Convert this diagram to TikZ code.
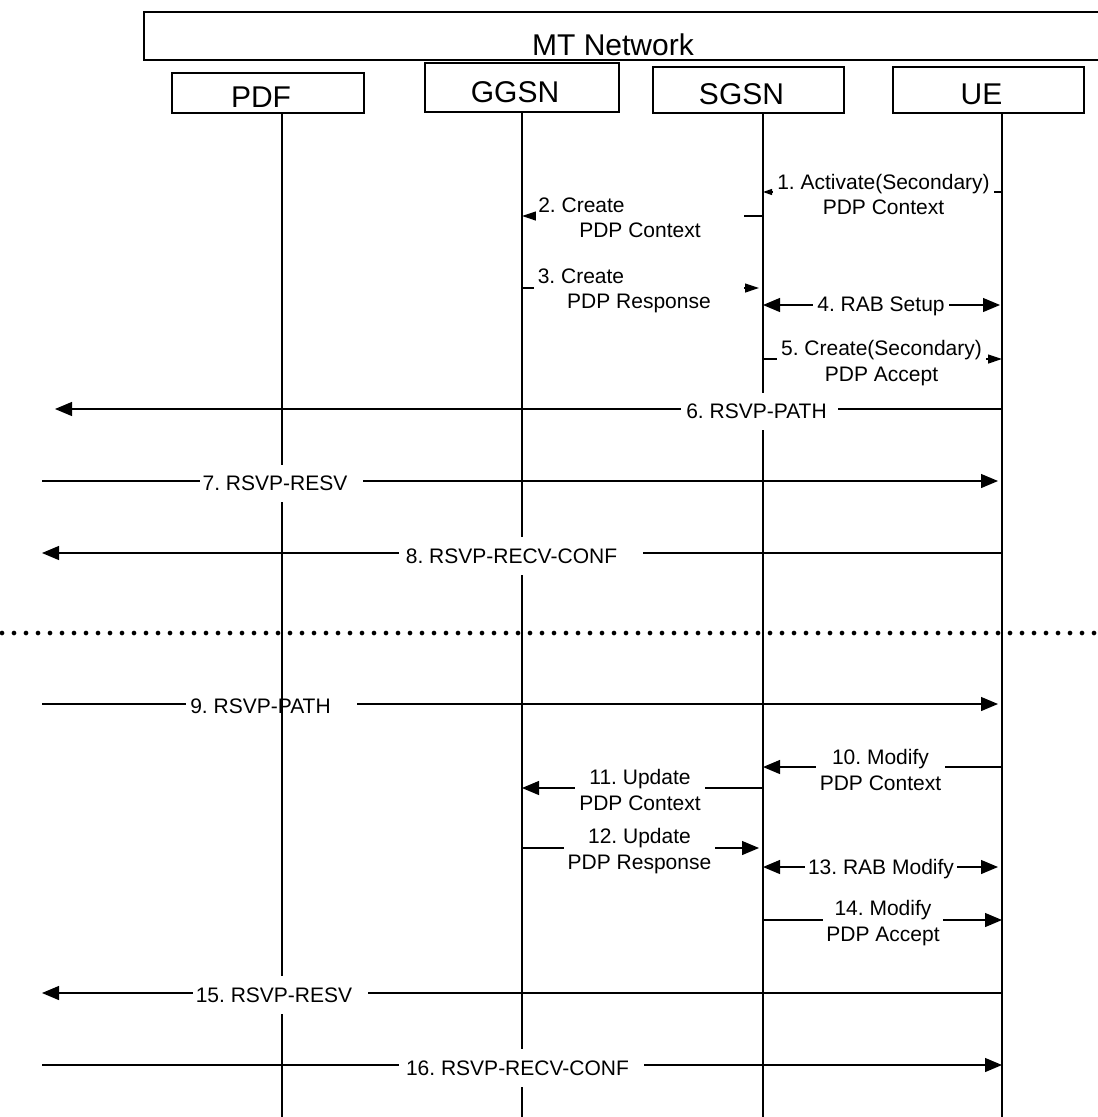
\documentclass[tikz,border=0pt]{standalone}
\usepackage{fontspec}
\setmainfont{Liberation Sans}
\usetikzlibrary{arrows.meta}
\frenchspacing

\begin{document}
\begin{tikzpicture}[x=1pt,y=-1pt,
    box/.style={draw,line width=1.6pt,inner sep=0pt,font=\fontsize{30}{36}\selectfont,text height=29pt,text depth=0pt},
    life/.style={line width=1.8pt},
    msg/.style={line width=1.2pt},
    lbl/.style={fill=white,inner sep=0pt,align=center,font=\fontsize{21}{25.5}\selectfont},
    bigtip/.style={-{Triangle[length=17pt,width=14pt]}},
    twotip/.style={{Triangle[length=17pt,width=14pt]}-{Triangle[length=17pt,width=14pt]}},
    smalltip/.style={-{Triangle[length=14pt,width=9pt]}},
    tinytip/.style={-{Triangle[length=9pt,width=6pt]}}]
    \useasboundingbox (0,0) rectangle (1098,1117);

    \draw[line width=1.8pt] (144,12) rectangle (1110,60);
    \node[font=\fontsize{30}{36}\selectfont] (mt) at (613,45) {MT Network};

    \node[box,minimum width=192pt,minimum height=40pt] (pdf) at (268,93) {PDF\hspace*{14pt}};
    \node[box,minimum width=194pt,minimum height=49pt] (ggsn) at (522,87.5) {GGSN\hspace*{14pt}};
    \node[box,minimum width=191pt,minimum height=46pt] (sgsn) at (748.5,90) {SGSN\hspace*{14pt}};
    \node[box,minimum width=191pt,minimum height=46pt] (ue) at (988.5,90) {UE\hspace*{14pt}};

    \coordinate (pdfL) at (282,113);
    \coordinate (ggsnL) at (522,112);
    \coordinate (sgsnL) at (763,113);
    \coordinate (ueL) at (1002,113);
    \coordinate (bot) at (0,1117);
    \coordinate (farL) at (42,0);
    \foreach \n in {pdfL,ggsnL,sgsnL,ueL}
        \draw[life] (\n) -- (\n |- bot);

    \foreach \i/\y in {1/192,2/216,3/288,4/305,5/359,6/409,7/481,8/553,9/704,10/767,11/788,12/848,13/867,14/920,15/993,16/1065}
        \coordinate (m\i) at (0,\y);

    \draw[msg,tinytip] (ueL |- m1) -- (sgsnL |- m1);
    \node[lbl,minimum width=221pt] (l1) at (883.5,194.5) {1. Activate(Secondary)\\PDP Context};

    \draw[msg,smalltip] (sgsnL |- m2) -- (ggsnL |- m2);
    \node[lbl,minimum width=208pt] (l2) at (640,218) {2. Create\hspace*{117pt}\\PDP Context};

    \draw[msg,smalltip,shorten >=4pt] (ggsnL |- m3) -- (sgsnL |- m3);
    \node[lbl,minimum width=210pt] (l3) at (639,291) {3. Create\hspace*{116pt}\\PDP Response};

    \draw[msg,twotip,shorten >=2pt] (sgsnL |- m4) -- (ueL |- m4);
    \node[lbl,minimum width=136pt] (l4) at (881,306) {4. RAB Setup};

    \draw[msg,smalltip] (sgsnL |- m5) -- (ueL |- m5);
    \node[lbl,minimum width=209pt] (l5) at (881.5,363) {5. Create(Secondary)\\PDP Accept};

    \draw[msg,bigtip,shorten >=13pt] (ueL |- m6) -- (farL |- m6);
    \node[lbl,minimum width=157pt,minimum height=37pt] (l6) at (759.5,411.5) {6. RSVP-PATH\hspace*{6pt}};

    \draw[msg,bigtip,shorten >=4pt] (farL |- m7) -- (ueL |- m7);
    \node[lbl,minimum width=163pt,minimum height=37pt] (l7) at (281.5,483.5) {7. RSVP-RESV\hspace*{13pt}};

    \draw[msg,bigtip] (ueL |- m8) -- (farL |- m8);
    \node[lbl,minimum width=244pt,minimum height=38pt] (l8) at (521,556) {8. RSVP-RECV-CONF\hspace*{19pt}};

    \draw[line width=4.7pt,line cap=round,dash pattern=on 0pt off 12pt] (2,633) -- (1098,633);

    \draw[msg,bigtip,shorten >=4pt] (farL |- m9) -- (ueL |- m9);
    \node[lbl,minimum width=171pt,minimum height=37pt] (l9) at (271.5,706) {9. RSVP-PATH\hspace*{22pt}};
    \draw[life] (l9.north -| pdfL) -- (l9.south -| pdfL);

    \draw[msg,bigtip] (ueL |- m10) -- (sgsnL |- m10);
    \node[lbl,minimum width=129pt] (l10) at (880.5,770) {10. Modify\\PDP Context};

    \draw[msg,bigtip] (sgsnL |- m11) -- (ggsnL |- m11);
    \node[lbl,minimum width=130pt] (l11) at (640,790) {11. Update\\PDP Context};

    \draw[msg,bigtip,shorten >=4pt] (ggsnL |- m12) -- (sgsnL |- m12);
    \node[lbl,minimum width=151pt] (l12) at (639.5,851) {12. Update\\PDP Response};

    \draw[msg,twotip,shorten >=4pt] (sgsnL |- m13) -- (ueL |- m13);
    \node[lbl,minimum width=152pt] (l13) at (881,869) {13. RAB Modify};

    \draw[msg,bigtip] (sgsnL |- m14) -- (ueL |- m14);
    \node[lbl,minimum width=120pt] (l14) at (883,923) {14. Modify\\PDP Accept};

    \draw[msg,bigtip] (ueL |- m15) -- (farL |- m15);
    \node[lbl,minimum width=175pt,minimum height=38pt] (l15) at (280.5,995) {15. RSVP-RESV\hspace*{13pt}};

    \draw[msg,bigtip] (farL |- m16) -- (ueL |- m16);
    \node[lbl,minimum width=245pt,minimum height=38pt] (l16) at (521.5,1068) {16. RSVP-RECV-CONF\hspace*{8pt}};
\end{tikzpicture}
\end{document}
